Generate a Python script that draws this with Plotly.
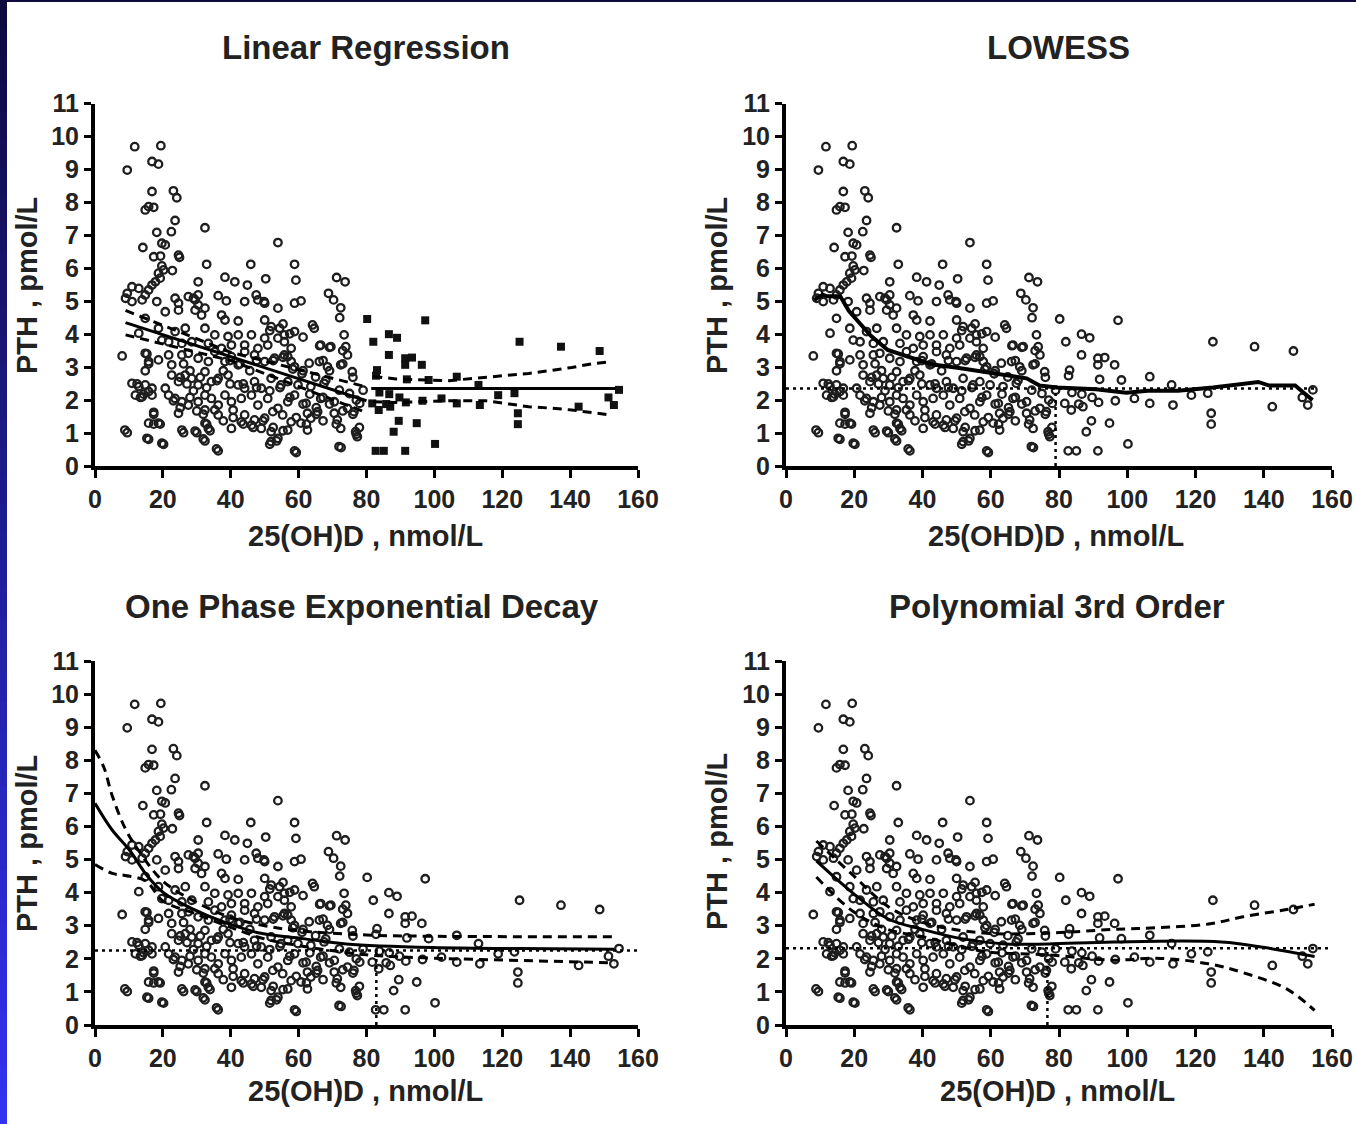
import plotly.graph_objects as go

# ---------------- data ----------------
vitd = [11.7, 19.4, 9.5, 16.8, 18.7, 16.8, 23.1, 24.1, 14.8, 15.8, 17.3, 23.6, 32.4, 18.2, 22.5, 53.9, 14.1, 19.7, 20.7,
        17.3, 19.3, 24.6, 24.9, 19.7, 20.2, 22.8, 32.9, 45.9, 58.8, 18.7, 19.2, 30.4, 38.3, 41.2, 44.9, 50.3, 59.2, 16.8,
        17.8, 10.9, 12.9, 15.8, 9.5, 14.8, 30.4, 36.3, 47.5, 23.6, 27.5, 29.0, 38.7, 44.1, 49.8,
        71.2, 73.7, 68.8, 70.3, 60.7,
        9.0, 10.9, 13.9, 18.2, 24.6, 29.5, 30.4, 32.4, 48.0, 50.0, 53.9, 58.8,
        14.8, 20.7, 24.6, 29.5, 31.4, 37.3, 38.3, 42.2, 50.0, 51.9, 54.4, 55.8, 58.8,
        12.9, 18.7, 23.6, 26.6, 32.4, 35.3, 39.2, 42.2, 46.1, 50.0, 53.9,
        19.7, 21.7, 25.6, 28.5, 33.4, 37.3, 40.2, 44.1, 48.0, 50.9, 55.8, 57.8,
        8.0, 14.8, 15.8, 18.7, 21.7, 22.6, 25.6, 27.5, 30.4, 33.4, 35.3, 38.3, 40.2, 42.2, 44.1, 47.0, 50.0, 52.9, 55.8, 57.8,
        10.9, 12.9, 14.8, 15.8, 16.8, 20.7, 22.6, 24.6, 26.6, 28.5, 30.4, 32.4, 34.3, 36.3, 39.2, 42.2, 44.1, 47.0, 49.0,
        51.9, 54.8, 56.8,
        11.9, 13.9, 16.8, 21.7, 23.6, 25.6, 27.5, 30.4, 32.4, 34.3, 36.3, 38.3, 40.2, 43.1, 46.1, 48.0, 50.9, 53.9, 56.8, 58.8,
        17.3, 24.6, 32.4, 35.3, 36.3, 40.7, 44.1, 47.0, 50.0, 52.4, 55.3, 57.8,
        15.8, 18.7, 32.4, 33.4, 40.2, 43.1, 46.1, 49.0, 51.9, 53.9, 56.8,
        8.8, 15.3, 19.7, 25.6, 29.5, 31.9, 35.8, 51.9, 58.8,
        72.4, 72.1, 64.1, 64.6, 73.4, 66.5, 69.5, 73.9, 74.4, 63.1, 66.1, 68.5, 72.4, 75.8, 59.8, 63.6, 67.5, 62.2, 66.5,
        70.5, 74.4, 76.3, 62.6, 65.6, 60.7, 63.6, 70.5, 71.4, 62.6, 72.4, 76.8, 77.3, 71.9, 56.8, 58.8,
        61.0, 65.0, 68.0, 72.0, 75.0, 77.0, 78.0, 79.0,
        12.4, 14.3, 13.4, 15.3, 15.8, 14.8, 17.3, 17.3, 19.2, 9.5, 15.8, 20.2, 26.1, 30.0, 32.4, 36.3,
        23.1, 25.1, 28.0, 30.0, 31.9, 32.9, 33.9, 37.8, 40.7, 43.7, 46.6, 49.5, 52.5, 55.4, 51.5, 53.5, 59.3,
        59.3, 62.3, 65.2, 67.2, 71.1, 73.0, 76.0, 77.9, 77.0, 72.5, 66.2, 69.1, 73.0, 67.2, 69.1, 73.0, 76.0,
        58.3, 61.3, 55.4, 52.5, 37.8, 39.8, 42.7, 45.6, 47.6, 35.9, 39.8, 43.7, 47.6, 51.5, 54.5,
        25.1, 27.1, 29.0, 31.0, 32.9, 26.1, 28.0, 57.4, 61.3, 63.3, 67.2, 69.1, 65.2, 57.4, 61.3, 55.4, 51.5,
        80.2, 97.3, 82.0, 86.6, 89.0, 86.6, 91.4, 93.4, 96.3, 91.4, 83.1, 82.8, 91.9, 98.3, 106.6, 113.0, 83.8, 86.7, 89.7,
        81.7, 85.8, 91.6, 96.5, 83.6, 87.0, 102.1, 106.6, 113.4, 89.5, 94.8, 88.0, 100.2, 82.7, 85.1, 91.4, 125.1, 137.3,
        148.7, 118.8, 123.6, 124.6, 124.6, 142.5, 152.9, 154.4, 151.3]
pth = [9.69, 9.72, 8.98, 9.24, 9.16, 8.33, 8.35, 8.14, 7.77, 7.87, 7.85, 7.45, 7.23, 7.09, 7.11, 6.78, 6.63, 6.76, 6.71,
       6.35, 6.37, 6.40, 6.33, 6.07, 5.95, 5.93, 6.12, 6.12, 6.12, 5.85, 5.70, 5.59, 5.73, 5.59, 5.49, 5.68, 5.64, 5.49,
       5.59, 5.44, 5.39, 5.34, 5.24, 5.19, 5.19, 5.17, 5.19, 5.09, 5.14, 5.09, 5.01, 4.99, 4.99,
       5.72, 5.59, 5.24, 5.04, 5.01,
       5.09, 4.99, 5.04, 4.99, 4.94, 5.04, 4.89, 4.79, 5.04, 4.94, 4.79, 4.94,
       4.48, 4.68, 4.73, 4.73, 4.58, 4.58, 4.43, 4.40, 4.43, 4.23, 4.18, 3.98, 4.08,
       4.03, 4.18, 4.08, 4.18, 4.18, 3.98, 3.93, 3.98, 3.98, 3.88, 3.88,
       3.82, 3.77, 3.72, 3.77, 3.72, 3.57, 3.67, 3.67, 3.57, 3.67, 3.77, 3.57,
       3.34, 3.42, 3.17, 3.22, 3.37, 3.07, 3.37, 3.42, 3.27, 3.17, 3.47, 3.17, 3.32, 3.07, 3.47, 3.37, 3.17, 3.27, 3.37, 3.17,
       2.51, 2.41, 2.46, 2.26, 2.36, 2.36, 2.76, 2.56, 2.76, 2.66, 2.46, 2.86, 2.56, 2.66, 2.76, 2.46, 2.36, 2.56, 2.36,
       2.66, 2.46, 2.56,
       2.15, 2.10, 2.15, 2.15, 2.05, 1.95, 1.85, 1.95, 2.15, 2.05, 1.85, 2.15, 1.95, 2.05, 2.15, 1.85, 2.05, 1.75, 1.95, 2.15,
       1.63, 1.60, 1.70, 1.70, 1.55, 1.70, 1.55, 1.40, 1.45, 1.65, 1.55, 1.34,
       1.30, 1.30, 1.30, 1.14, 1.14, 1.34, 1.24, 1.14, 1.04, 0.84, 1.09,
       1.09, 0.84, 0.69, 1.09, 1.06, 0.82, 0.52, 0.74, 0.46,
       4.80, 4.50, 4.28, 4.18, 3.98, 3.67, 3.62, 3.62, 3.37, 3.12, 3.17, 3.01, 3.07, 2.86, 2.46, 2.41, 2.51, 1.90, 2.05,
       1.95, 1.75, 1.65, 1.60, 1.65, 1.30, 1.45, 1.60, 1.40, 1.09, 1.14, 1.04, 0.89, 0.59, 3.32, 3.01,
       2.80, 2.70, 2.60, 2.30, 2.20, 2.00, 1.90, 2.30,
       2.49, 2.18, 2.08, 3.40, 3.10, 2.89, 1.57, 1.27, 1.27, 1.01, 0.81, 0.66, 1.01, 1.01, 0.76, 0.46,
       1.98, 1.77, 2.08, 1.67, 1.57, 1.27, 1.07, 1.37, 1.47, 1.27, 1.17, 1.37, 1.17, 1.07, 0.66, 0.76, 0.41,
       1.47, 1.27, 1.57, 1.37, 1.27, 1.67, 1.57, 1.17, 0.96, 0.56, 3.65, 3.60, 3.50, 3.20, 2.89, 3.10, 2.69,
       2.94, 2.89, 3.30, 3.20, 2.89, 3.20, 3.10, 2.89, 3.20, 2.59, 2.49, 2.49, 2.38, 2.28, 2.38,
       2.69, 2.49, 2.28, 2.69, 2.38, 3.10, 2.89, 2.08, 1.88, 2.18, 2.08, 1.88, 1.77, 4.01, 3.91, 4.31, 4.11,
       4.46, 4.42, 3.77, 4.00, 3.89, 3.37, 3.27, 3.29, 3.07, 3.07, 2.91, 2.74, 2.63, 2.61, 2.71, 2.46, 2.23, 2.18, 2.08,
       1.90, 1.88, 1.93, 1.98, 1.70, 1.80, 2.05, 1.90, 1.85, 1.37, 1.30, 1.04, 0.67, 0.46, 0.46, 0.46, 3.77, 3.62,
       3.49, 2.15, 2.21, 1.60, 1.27, 1.80, 1.85, 2.31, 2.08]

# Linear regression fits (two segments, with confidence bands)
lr1_x = [9.0, 40.0, 80.0]
lr1_fit = [4.35, 3.32, 1.98]
lr1_up = [4.72, 3.45, 2.40]
lr1_lo = [3.98, 3.20, 1.62]
lr2_x = [81.4, 153.3]
lr2_fit = [2.35, 2.35]
lr2_band_x = [82.0, 88.7, 104.3, 115.1, 122.0, 127.8, 133.7, 140.5, 146.4, 152.3]
lr2_up = [2.72, 2.64, 2.59, 2.69, 2.74, 2.81, 2.89, 2.99, 3.10, 3.17]
lr2_lo = [1.95, 1.93, 1.98, 1.98, 1.88, 1.80, 1.76, 1.70, 1.62, 1.54]

# LOWESS curve
lowess_x = [8.3, 10.8, 12.1, 15.9, 18.4, 21.0, 24.8, 29.8, 36.2, 42.5, 50.2, 57.8, 65.4, 70.5, 74.3, 79.4, 90.8,
            99.7, 106.0, 114.9, 125.1, 134.0, 138.4, 141.6, 149.2, 151.7, 154.3]
lowess_y = [5.04, 5.20, 5.15, 5.15, 4.71, 4.39, 3.96, 3.52, 3.31, 3.09, 2.98, 2.87, 2.76, 2.66, 2.44, 2.38, 2.33,
            2.22, 2.28, 2.28, 2.38, 2.49, 2.55, 2.44, 2.44, 2.22, 2.00]
lowess_plateau = 2.35
lowess_cross = 79.0

# One phase exponential decay
exp_x = [0, 5, 10.2, 15.3, 20.4, 28.1, 38.3, 48.5, 61.2, 74.0, 99.5, 125, 153]
exp_fit = [6.70, 5.90, 5.28, 4.52, 3.98, 3.54, 3.10, 2.78, 2.61, 2.45, 2.34, 2.31, 2.29]
exp_up_x = [0, 2.6, 5.1, 8.9, 12.8, 20, 30, 40, 50, 60, 80, 100, 125, 153]
exp_up = [8.30, 7.79, 6.92, 5.94, 5.28, 4.35, 3.70, 3.25, 3.00, 2.85, 2.72, 2.68, 2.67, 2.67]
exp_lo_x = [0, 5.1, 8.9, 15, 20, 30, 40, 50, 60, 80, 100, 125, 153]
exp_lo = [4.85, 4.58, 4.52, 4.35, 3.75, 3.35, 2.95, 2.60, 2.40, 2.12, 2.02, 1.95, 1.88]
exp_plateau = 2.25
exp_cross = 82.9

# Polynomial 3rd order
poly_x = [8.9, 19.7, 29.8, 40.0, 51.4, 64.1, 76.8, 95.9, 127.6, 140.3, 154.9]
poly_fit = [4.96, 3.98, 3.21, 2.89, 2.61, 2.45, 2.45, 2.51, 2.51, 2.34, 2.07]
poly_band_x = [8.9, 19.7, 29.8, 40.0, 57.8, 76.8, 95.9, 108.6, 123.8, 134.0, 146.7, 154.9]
poly_up = [5.56, 4.52, 3.59, 3.10, 2.78, 2.78, 2.89, 2.94, 3.05, 3.27, 3.49, 3.65]
poly_lo = [4.47, 3.43, 2.89, 2.67, 2.23, 2.12, 1.96, 2.02, 1.85, 1.58, 1.09, 0.44]
poly_plateau = 2.32
poly_cross = 76.6

titles = ["Linear Regression", "LOWESS", "One Phase Exponential Decay", "Polynomial 3rd Order"]
xtitles = ["25(OH)D , nmol/L", "25(OHD)D , nmol/L", "25(OH)D , nmol/L", "25(OH)D , nmol/L"]
ytitle = "PTH , pmol/L"

# ---------------- figure ----------------
W, H = 1356, 1124
FONT = "Liberation Sans, Arial, sans-serif"
fig = go.Figure()

def px_x(p):
    return p / W

def px_y(p):
    return 1 - p / H

# panel geometry in pixels: (x0, x1, ytop, ybottom)
panels = [(95, 638, 103.5, 466), (786, 1332, 103.5, 466), (95, 638, 661, 1025), (786, 1332, 661, 1025)]

mk_open = dict(symbol="circle-open", size=7.5, color="#1e1e1e", line=dict(width=2.3, color="#1e1e1e"))
mk_sq = dict(symbol="square", size=8, color="#111111")
solid = dict(color="black", width=3)
dashed = dict(color="black", width=3, dash="9px,6px")
dotted = dict(color="black", width=2.5, dash="3px,4px")

for i, (x0, x1, yt, yb) in enumerate(panels):
    n = "" if i == 0 else str(i + 1)
    fig.update_layout(**{
        "xaxis" + n: dict(domain=[px_x(x0), px_x(x1)], range=[0, 160], anchor="y" + n, dtick=20,
                           showline=True, linewidth=4, linecolor="black", ticks="outside", ticklen=8,
                           tickwidth=3, tickcolor="black", showgrid=False, zeroline=False, automargin=False,
                           tickfont=dict(family=FONT, size=25, color="#222", weight="bold")),
        "yaxis" + n: dict(domain=[px_y(yb), px_y(yt)], range=[0, 11], anchor="x" + n, dtick=1,
                           showline=True, linewidth=4, linecolor="black", ticks="outside", ticklen=7,
                           tickwidth=3, tickcolor="black", showgrid=False, zeroline=False, automargin=False,
                           tickfont=dict(family=FONT, size=25, color="#222", weight="bold")),
    })
    xa, ya = "x" + n, "y" + n
    if i == 0:
        lx = [a for a in vitd if a < 80]
        ly = [b for a, b in zip(vitd, pth) if a < 80]
        hx = [a for a in vitd if a >= 80]
        hy = [b for a, b in zip(vitd, pth) if a >= 80]
        fig.add_trace(go.Scatter(x=lx, y=ly, mode="markers", marker=mk_open, xaxis=xa, yaxis=ya))
        fig.add_trace(go.Scatter(x=hx, y=hy, mode="markers", marker=mk_sq, xaxis=xa, yaxis=ya))
        fig.add_trace(go.Scatter(x=lr1_x, y=lr1_fit, mode="lines", line=solid, xaxis=xa, yaxis=ya))
        fig.add_trace(go.Scatter(x=lr1_x, y=lr1_up, mode="lines", line=dashed, xaxis=xa, yaxis=ya))
        fig.add_trace(go.Scatter(x=lr1_x, y=lr1_lo, mode="lines", line=dashed, xaxis=xa, yaxis=ya))
        fig.add_trace(go.Scatter(x=lr2_x, y=lr2_fit, mode="lines", line=solid, xaxis=xa, yaxis=ya))
        fig.add_trace(go.Scatter(x=lr2_band_x, y=lr2_up, mode="lines", line=dashed, xaxis=xa, yaxis=ya))
        fig.add_trace(go.Scatter(x=lr2_band_x, y=lr2_lo, mode="lines", line=dashed, xaxis=xa, yaxis=ya))
    else:
        fig.add_trace(go.Scatter(x=vitd, y=pth, mode="markers", marker=mk_open, xaxis=xa, yaxis=ya))
    if i == 1:
        fig.add_trace(go.Scatter(x=[0, 155], y=[lowess_plateau] * 2, mode="lines", line=dotted, xaxis=xa, yaxis=ya))
        fig.add_trace(go.Scatter(x=[lowess_cross] * 2, y=[0, lowess_plateau], mode="lines", line=dotted, xaxis=xa, yaxis=ya))
        fig.add_trace(go.Scatter(x=lowess_x, y=lowess_y, mode="lines", line=dict(color="black", width=4), xaxis=xa, yaxis=ya))
    if i == 2:
        fig.add_trace(go.Scatter(x=[0, 166], y=[exp_plateau] * 2, mode="lines", line=dotted, xaxis=xa, yaxis=ya, cliponaxis=False))
        fig.add_trace(go.Scatter(x=[exp_cross] * 2, y=[0, exp_plateau], mode="lines", line=dotted, xaxis=xa, yaxis=ya))
        fig.add_trace(go.Scatter(x=exp_x, y=exp_fit, mode="lines", line=dict(shape="spline", **solid), xaxis=xa, yaxis=ya))
        fig.add_trace(go.Scatter(x=exp_up_x, y=exp_up, mode="lines", line=dict(shape="spline", **dashed), xaxis=xa, yaxis=ya))
        fig.add_trace(go.Scatter(x=exp_lo_x, y=exp_lo, mode="lines", line=dict(shape="spline", **dashed), xaxis=xa, yaxis=ya))
    if i == 3:
        fig.add_trace(go.Scatter(x=[0, 160], y=[poly_plateau] * 2, mode="lines", line=dotted, xaxis=xa, yaxis=ya))
        fig.add_trace(go.Scatter(x=[poly_cross] * 2, y=[0, poly_plateau], mode="lines", line=dotted, xaxis=xa, yaxis=ya))
        fig.add_trace(go.Scatter(x=poly_x, y=poly_fit, mode="lines", line=dict(shape="spline", **solid), xaxis=xa, yaxis=ya))
        fig.add_trace(go.Scatter(x=poly_band_x, y=poly_up, mode="lines", line=dict(shape="spline", **dashed), xaxis=xa, yaxis=ya))
        fig.add_trace(go.Scatter(x=poly_band_x, y=poly_lo, mode="lines", line=dict(shape="spline", **dashed), xaxis=xa, yaxis=ya))

# titles and axis titles as annotations
title_pos = [(366, 48), (1058, 48), (362, 606), (1057, 606)]
xt_pos = [(365, 536), (1056, 536), (365, 1091), (1057, 1091)]
yt_pos = [(27, 286), (717, 286), (27, 844), (717, 842)]
ann = []
for i in range(4):
    ann.append(dict(text="<b>" + titles[i] + "</b>", x=px_x(title_pos[i][0]), y=px_y(title_pos[i][1]),
                    xref="paper", yref="paper", showarrow=False, xanchor="center", yanchor="middle",
                    font=dict(family=FONT, size=33, color="#222")))
    ann.append(dict(text="<b>" + xtitles[i] + "</b>", x=px_x(xt_pos[i][0]), y=px_y(xt_pos[i][1]),
                    xref="paper", yref="paper", showarrow=False, xanchor="center", yanchor="middle",
                    font=dict(family=FONT, size=29, color="#222")))
    ann.append(dict(text="<b>" + ytitle + "</b>", x=px_x(yt_pos[i][0]), y=px_y(yt_pos[i][1]),
                    xref="paper", yref="paper", showarrow=False, xanchor="center", yanchor="middle",
                    textangle=-90, font=dict(family=FONT, size=29, color="#222")))

# blue frame on the left and top edges (gradient approximated by bands)
shapes = [dict(type="rect", xref="paper", yref="paper", x0=0, x1=1, y0=1 - 2 / H, y1=1,
               fillcolor="rgb(14,10,64)", line=dict(width=0), layer="above")]
nb = 40
for k in range(nb):
    t = k / (nb - 1)
    r = int(14 + (50 - 14) * t)
    g = int(10 + (50 - 10) * t)
    b = int(64 + (240 - 64) * t)
    shapes.append(dict(type="rect", xref="paper", yref="paper", x0=0, x1=7 / W,
                       y0=1 - (k + 1) / nb, y1=1 - k / nb + 0.001,
                       fillcolor=f"rgb({r},{g},{b})", line=dict(width=0), layer="above"))

fig.update_layout(width=W, height=H, autosize=False, margin=dict(l=0, r=0, t=0, b=0, pad=0, autoexpand=False),
                  showlegend=False, paper_bgcolor="white", plot_bgcolor="white", annotations=ann, shapes=shapes)

fig.write_html("out.html", config={"displayModeBar": False},
               post_script="document.body.style.margin='0';document.body.style.padding='0';"
                           "document.body.style.overflow='hidden';")
